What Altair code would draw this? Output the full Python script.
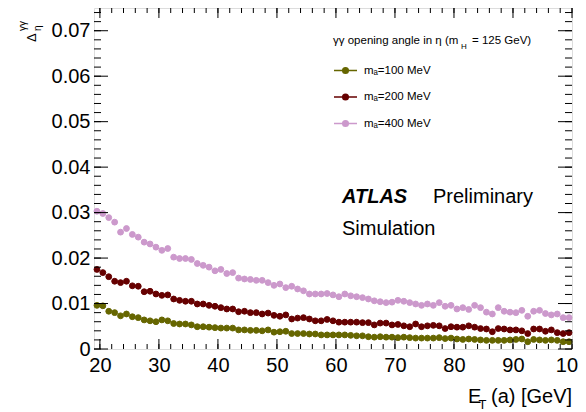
import altair as alt
import pandas as pd

# ---------------- data ----------------
e_t = [19.5 + i for i in range(81)]  # bin centres, 1 GeV bins from 19 to 100

ma100 = [0.0096, 0.0095, 0.0083, 0.0080, 0.0073, 0.0077, 0.0071, 0.0069, 0.0064, 0.0062,
         0.0060, 0.0064, 0.0062, 0.0056, 0.0055, 0.0055, 0.0053, 0.0049, 0.0049, 0.0048,
         0.0047, 0.0046, 0.0046, 0.0046, 0.0042, 0.0042, 0.0041, 0.0041, 0.0040, 0.0042,
         0.0037, 0.0038, 0.0039, 0.0034, 0.0034, 0.0034, 0.0033, 0.0033, 0.0031, 0.0031,
         0.0031, 0.0031, 0.0031, 0.0030, 0.0029, 0.0029, 0.0027, 0.0026, 0.0027, 0.0026,
         0.0026, 0.0025, 0.0026, 0.0025, 0.0024, 0.0024, 0.0024, 0.0024, 0.0025, 0.0023,
         0.0024, 0.0022, 0.0021, 0.0022, 0.0021, 0.0020, 0.0019, 0.0019, 0.0019, 0.0019,
         0.0020, 0.0021, 0.0022, 0.0016, 0.0021, 0.0020, 0.0019, 0.0020, 0.0019, 0.0016,
         0.0016]

ma200 = [0.0175, 0.0168, 0.0159, 0.0149, 0.0146, 0.0149, 0.0139, 0.0138, 0.0126, 0.0127,
         0.0121, 0.0118, 0.0119, 0.0110, 0.0107, 0.0105, 0.0105, 0.0099, 0.0099, 0.0096,
         0.0094, 0.0091, 0.0088, 0.0088, 0.0082, 0.0083, 0.0080, 0.0080, 0.0077, 0.0079,
         0.0074, 0.0072, 0.0075, 0.0066, 0.0068, 0.0069, 0.0066, 0.0062, 0.0062, 0.0065,
         0.0062, 0.0059, 0.0059, 0.0059, 0.0059, 0.0058, 0.0058, 0.0053, 0.0057, 0.0057,
         0.0053, 0.0054, 0.0051, 0.0049, 0.0055, 0.0049, 0.0051, 0.0052, 0.0051, 0.0045,
         0.0049, 0.0048, 0.0048, 0.0051, 0.0048, 0.0045, 0.0044, 0.0038, 0.0045, 0.0044,
         0.0042, 0.0042, 0.0040, 0.0034, 0.0044, 0.0044, 0.0039, 0.0042, 0.0036, 0.0034,
         0.0036]

ma400 = [0.0303, 0.0298, 0.0289, 0.0279, 0.0257, 0.0265, 0.0252, 0.0246, 0.0235, 0.0231,
         0.0224, 0.0217, 0.0221, 0.0202, 0.0199, 0.0199, 0.0197, 0.0188, 0.0184, 0.0180,
         0.0172, 0.0175, 0.0166, 0.0168, 0.0156, 0.0154, 0.0153, 0.0151, 0.0151, 0.0146,
         0.0140, 0.0143, 0.0135, 0.0138, 0.0132, 0.0128, 0.0121, 0.0121, 0.0121, 0.0122,
         0.0119, 0.0115, 0.0121, 0.0117, 0.0115, 0.0113, 0.0110, 0.0106, 0.0104, 0.0102,
         0.0103, 0.0107, 0.0105, 0.0102, 0.0099, 0.0096, 0.0099, 0.0096, 0.0102, 0.0094,
         0.0096, 0.0088, 0.0091, 0.0087, 0.0096, 0.0091, 0.0081, 0.0077, 0.0091, 0.0083,
         0.0081, 0.0080, 0.0085, 0.0072, 0.0083, 0.0085, 0.0078, 0.0075, 0.0077, 0.0069,
         0.0069]

series_labels = ["m\u2090=100 MeV", "m\u2090=200 MeV", "m\u2090=400 MeV"]
series_colors = ["#666600", "#660000", "#cc99cc"]

x_major = [20, 30, 40, 50, 60, 70, 80, 90, 100]
x_minor = [20 + 2 * i for i in range(41)]
y_major = [0.0, 0.01, 0.02, 0.03, 0.04, 0.05, 0.06, 0.07]
y_minor = [round(0.002 * i, 3) for i in range(38)]

# ---------------- chart ----------------
W, H = 478, 341
FONT = "Liberation Sans"

rows = []
for lab, vals in zip(series_labels, [ma100, ma200, ma400]):
    for e, v in zip(e_t, vals):
        rows.append({"et": e, "delta": v, "series": lab})
df = pd.DataFrame(rows)

xs = alt.Scale(domain=[19, 100], nice=False, zero=False)
ys = alt.Scale(domain=[0, 0.075], nice=False, zero=False)
cs = alt.Scale(domain=series_labels, range=series_colors)

x_axis = alt.Axis(values=x_major, format="d", labelFontSize=20, labelFont=FONT,
                  labelColor="black", ticks=False, tickSize=0, domain=False,
                  grid=False, title=None, labelPadding=6, labelFlush=False,
                  labelOverlap=False)
y_axis = alt.Axis(values=y_major,
                  labelExpr="datum.value == 0 ? '0' : format(datum.value, '.2f')",
                  labelFontSize=20, labelFont=FONT, labelColor="black",
                  ticks=False, tickSize=0, domain=False, grid=False, title=None,
                  labelPadding=4, labelFlush=False, labelOverlap=False)

legend_path = ("M-1,0L1,0M-0.24,0A0.24,0.24,0,1,0,0.24,0"
               "A0.24,0.24,0,1,0,-0.24,0Z")
leg = alt.Legend(title=None, orient="none", legendX=239, legendY=50,
                 symbolType=legend_path, symbolSize=529, symbolStrokeWidth=1.6,
                 labelFontSize=11.5, labelFont=FONT, labelColor="black",
                 labelOffset=6, rowPadding=7.5, padding=0, direction="vertical")

points = alt.Chart(df).mark_point(shape="circle", filled=True, size=34,
                                  strokeWidth=1, opacity=1).encode(
    x=alt.X("et:Q", scale=xs, axis=x_axis),
    y=alt.Y("delta:Q", scale=ys, axis=y_axis),
    fill=alt.Fill("series:N", scale=cs, legend=leg),
    stroke=alt.Stroke("series:N", scale=cs, legend=leg),
    order=alt.Order("series:N"),
)


def tick_layer(vals, axis, length, side):
    d = pd.DataFrame({"v": vals})
    m = alt.Chart(d).mark_rule(color="black", strokeWidth=1)
    if axis == "y":
        if side == "left":
            return m.encode(y=alt.Y("v:Q", scale=ys, axis=y_axis),
                            x=alt.value(0), x2=alt.value(length))
        return m.encode(y=alt.Y("v:Q", scale=ys, axis=y_axis),
                        x=alt.value(W), x2=alt.value(W - length))
    if side == "bottom":
        return m.encode(x=alt.X("v:Q", scale=xs, axis=x_axis),
                        y=alt.value(H), y2=alt.value(H - length))
    return m.encode(x=alt.X("v:Q", scale=xs, axis=x_axis),
                    y=alt.value(0), y2=alt.value(length))


ticks = [
    tick_layer(y_major, "y", 14, "left"), tick_layer(y_minor, "y", 7, "left"),
    tick_layer(y_major, "y", 14, "right"), tick_layer(y_minor, "y", 7, "right"),
    tick_layer(x_major, "x", 10, "bottom"), tick_layer(x_minor, "x", 5, "bottom"),
    tick_layer(x_major, "x", 10, "top"), tick_layer(x_minor, "x", 5, "top"),
]


def txt(s, x, y, size, **kw):
    return alt.Chart(pd.DataFrame({"t": [s]})).mark_text(
        font=FONT, fontSize=size, color="black", align=kw.pop("align", "left"),
        baseline="alphabetic", **kw).encode(x=alt.value(x), y=alt.value(y), text="t:N")


texts = [
    txt("ATLAS", 248, 195, 20, fontWeight="bold", fontStyle="italic"),
    txt("Preliminary", 339, 195, 20),
    txt("Simulation", 248, 227, 20),
    txt("\u03b3\u03b3 opening angle in \u03b7 (m", 239, 36, 11.5),
    txt("H", 367, 41, 8),
    txt("= 125 GeV)", 378, 36, 11.5),
    txt("E", 374, 395, 20),
    txt("T", 384.5, 401, 13),
    txt("(a) [GeV]", 397, 395, 20),
    txt("\u0394", -58, 34, 13, angle=270),
    txt("\u03b7", -53, 23, 10, angle=270),
    txt("\u03b3\u03b3", -68, 23, 10, angle=270),
]

chart = alt.layer(points, *ticks, *texts).properties(
    width=W, height=H,
    autosize=alt.AutoSizeParams(type="none"),
    padding={"left": 86, "top": 0, "right": 6, "bottom": 62},
).configure_view(stroke="black", strokeWidth=1.5).configure(background="white")

chart.save("out.html", embed_options={"renderer": "svg", "actions": False})
